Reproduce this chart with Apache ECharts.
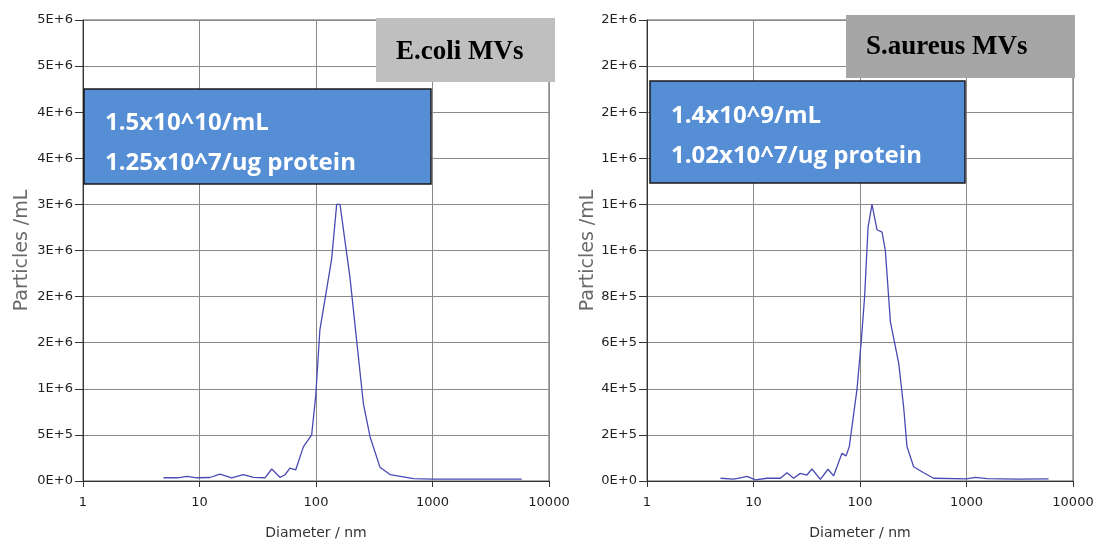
<!DOCTYPE html>
<html>
<head>
<meta charset="utf-8">
<script src="https://cdn.jsdelivr.net/npm/echarts@6/dist/echarts.min.js"></script>
<style>
  html, body { margin: 0; padding: 0; background: #fff; }
  #chart { width: 1095px; height: 542px; }
</style>
</head>
<body>
<div id="chart"></div>
<script>
// E.coli MVs - size distribution (diameter nm, particles/mL)
var ecoliDiam = [4.9, 6.5, 7.8, 9.5, 12.3, 15, 18.9, 23.8, 29, 36.5, 41.7, 49, 54, 59.8, 66.9, 77.9, 91.8, 99.4, 108, 123.5, 136, 150.5, 160.7, 196, 223, 255, 291, 354, 432, 561, 684, 1000, 2000, 5830];
var ecoliConc = [35000, 35000, 50000, 35000, 38000, 75000, 35000, 70000, 40000, 35000, 130000, 40000, 65000, 140000, 120000, 370000, 500000, 920000, 1640000, 2080000, 2400000, 3000000, 3000000, 2200000, 1530000, 840000, 480000, 150000, 70000, 45000, 25000, 20000, 20000, 20000];

// S.aureus MVs
var saureusDiam = [4.9, 6.5, 7.5, 8.7, 10.4, 13.4, 17.9, 20.6, 23.8, 27.5, 31.7, 35.4, 42.4, 50.1, 56.5, 67.7, 74, 79.4, 93.8, 102.9, 110.5, 119, 129.6, 144.5, 161, 173, 193, 231, 257, 276, 319, 396, 491, 1000, 1211, 1560, 3000, 5900];
var saureusConc = [12000, 8000, 14000, 20000, 5000, 12000, 12000, 36000, 12000, 33000, 26000, 52000, 7000, 51000, 22000, 120000, 109000, 150000, 400000, 610000, 800000, 1100000, 1200000, 1090000, 1080000, 1000000, 690000, 510000, 320000, 150000, 62000, 36000, 12000, 9000, 16000, 10000, 8000, 9000];

function pairs(xs, ys) {
  var out = [];
  xs.forEach(function (x, i) { out.push([x, ys[i]]); });
  return out;
}

// excel style "0E+0"
function sci(v) {
  if (v === 0) return '0E+0';
  var e = Math.floor(Math.log10(v) + 1e-9);
  var m = Math.round(v / Math.pow(10, e) + 1e-9);
  if (m >= 10) { m = 1; e++; }
  return m + 'E+' + e;
}

var labelFont = { fontFamily: 'DejaVu Sans', fontSize: 13, color: '#222' };

function xAxisFor(i) {
  return {
    type: 'log', gridIndex: i, min: 1, max: 10000, logBase: 10,
    name: 'Diameter / nm', nameLocation: 'middle', nameGap: 45,
    nameTextStyle: { fontFamily: 'DejaVu Sans', fontSize: 14, color: '#333' },
    axisLine: { lineStyle: { color: '#333', width: 1 } },
    axisTick: { show: true, inside: false, length: 6, lineStyle: { color: '#333' } },
    axisLabel: Object.assign({ margin: 15, formatter: function (v) { return String(Math.round(v)); } }, labelFont),
    splitLine: { show: true, lineStyle: { color: '#8a8a8a', width: 1 } },
    minorTick: { show: false }
  };
}

function yAxisFor(i, max, step, gap) {
  return {
    type: 'value', gridIndex: i, min: 0, max: max, interval: step,
    name: 'Particles /mL', nameLocation: 'middle', nameGap: gap, nameRotate: 90,
    nameTextStyle: { fontFamily: 'DejaVu Sans', fontSize: 19, color: '#6a6a6a' },
    axisLine: { show: true, lineStyle: { color: '#333', width: 1 } },
    axisTick: { show: true, length: 8, lineStyle: { color: '#333' } },
    axisLabel: Object.assign({ margin: 10, formatter: sci }, labelFont),
    splitLine: { show: true, lineStyle: { color: '#8a8a8a', width: 1 } }
  };
}

var myChart = echarts.init(document.getElementById('chart'));
myChart.setOption({
  animation: false,
  backgroundColor: '#fff',
  grid: [
    { left: 83, right: 546, top: 20, bottom: 61, show: true, borderColor: '#555', borderWidth: 1, outerBoundsMode: 'none', containLabel: false },
    { left: 647, right: 22, top: 20, bottom: 61, show: true, borderColor: '#555', borderWidth: 1, outerBoundsMode: 'none', containLabel: false }
  ],
  xAxis: [xAxisFor(0), xAxisFor(1)],
  yAxis: [yAxisFor(0, 5000000, 500000, 51), yAxisFor(1, 2000000, 200000, 45)],
  series: [
    {
      name: 'E.coli MVs', type: 'line', xAxisIndex: 0, yAxisIndex: 0,
      showSymbol: false, data: pairs(ecoliDiam, ecoliConc),
      lineStyle: { color: '#4a4ab4', width: 1.3 }
    },
    {
      name: 'S.aureus MVs', type: 'line', xAxisIndex: 1, yAxisIndex: 1,
      showSymbol: false, data: pairs(saureusDiam, saureusConc),
      lineStyle: { color: '#4a4ab4', width: 1.3 }
    }
  ],
  graphic: [
    // left annotations
    { type: 'rect', shape: { x: 376, y: 18, width: 179, height: 64 }, style: { fill: '#bfbfbf' }, z: 100 },
    { type: 'text', x: 396, y: 52, style: { text: 'E.coli MVs', font: 'bold 27px "Liberation Serif"', fill: '#000', textVerticalAlign: 'middle' }, z: 101 },
    { type: 'rect', shape: { x: 84, y: 89, width: 347, height: 95 }, style: { fill: '#558ed5', stroke: '#1a1a1a', lineWidth: 1.5 }, z: 100 },
    { type: 'text', x: 105, y: 123, style: { text: '1.5x10^10/mL', font: 'bold 24px "Open Sans"', fill: '#fff', textVerticalAlign: 'middle' }, z: 101 },
    { type: 'text', x: 105, y: 163, style: { text: '1.25x10^7/ug protein', font: 'bold 24px "Open Sans"', fill: '#fff', textVerticalAlign: 'middle' }, z: 101 },
    // right annotations
    { type: 'rect', shape: { x: 846, y: 15, width: 229, height: 63 }, style: { fill: '#a6a6a6' }, z: 100 },
    { type: 'text', x: 866, y: 47, style: { text: 'S.aureus MVs', font: 'bold 27px "Liberation Serif"', fill: '#000', textVerticalAlign: 'middle' }, z: 101 },
    { type: 'rect', shape: { x: 650, y: 81, width: 315, height: 102 }, style: { fill: '#558ed5', stroke: '#1a1a1a', lineWidth: 1.5 }, z: 100 },
    { type: 'text', x: 671, y: 116, style: { text: '1.4x10^9/mL', font: 'bold 24px "Open Sans"', fill: '#fff', textVerticalAlign: 'middle' }, z: 101 },
    { type: 'text', x: 671, y: 156, style: { text: '1.02x10^7/ug protein', font: 'bold 24px "Open Sans"', fill: '#fff', textVerticalAlign: 'middle' }, z: 101 }
  ]
});
</script>
</body>
</html>
